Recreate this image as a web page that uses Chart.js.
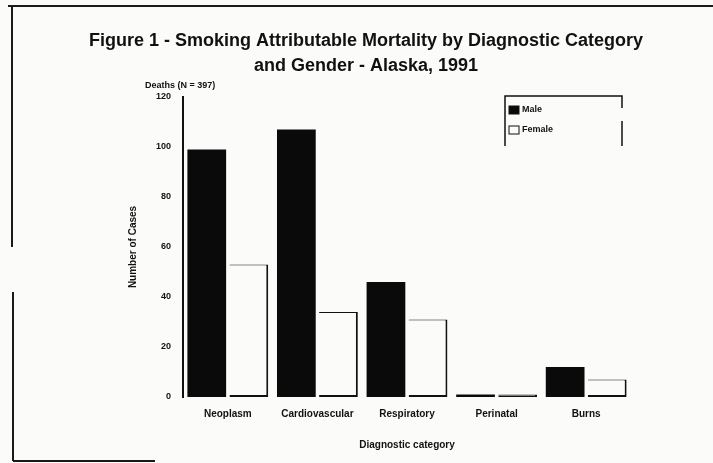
<!DOCTYPE html>
<html>
<head>
<meta charset="utf-8">
<script src="https://cdn.jsdelivr.net/npm/chart.js@4/dist/chart.umd.min.js"></script>
<style>
  html, body { margin: 0; padding: 0; background: #fbfbfa; }
  #wrap { position: relative; width: 713px; height: 463px; }
  canvas { position: absolute; left: 0; top: 0; }
</style>
</head>
<body>
<div id="wrap"><canvas id="c" width="713" height="463"></canvas></div>
<script>
const categories = ["Neoplasm", "Cardiovascular", "Respiratory", "Perinatal", "Burns"];
const maleValues = [99, 107, 46, 1, 12];
const femaleValues = [53, 34, 31, 1, 7];
const yTicks = [0, 20, 40, 60, 80, 100, 120];
const titleLines = ["Figure 1 - Smoking Attributable Mortality by Diagnostic Category", "and Gender - Alaska, 1991"];
const subtitleText = "Deaths (N = 397)";
const yTitle = "Number of Cases";
const xTitle = "Diagnostic category";

const FONT = "'Liberation Sans', Arial, sans-serif";

const frame = {
  id: 'frame',
  beforeDraw(chart) {
    const ctx = chart.ctx;
    ctx.save();
    ctx.strokeStyle = '#1a1a1a';
    ctx.lineWidth = 2;
    ctx.beginPath();
    ctx.moveTo(8, 6); ctx.lineTo(713, 6);
    ctx.moveTo(12, 6); ctx.lineTo(12, 247);
    ctx.moveTo(13, 292); ctx.lineTo(13, 461);
    ctx.moveTo(13, 461); ctx.lineTo(155, 461);
    ctx.stroke();
    ctx.restore();
  }
};

const overlay = {
  id: 'overlay',
  afterDraw(chart) {
    const ctx = chart.ctx;
    ctx.save();
    // title
    ctx.fillStyle = '#111';
    ctx.textAlign = 'center';
    ctx.textBaseline = 'alphabetic';
    ctx.font = "bold 18px " + FONT;
    ctx.fillText(titleLines[0], 366, 46);
    ctx.fillText(titleLines[1], 366, 71);
    // subtitle above axis
    ctx.font = "bold 9px " + FONT;
    ctx.textAlign = 'left';
    ctx.fillText(subtitleText, 145, 88);
    // legend box
    const lx = 505, ly = 96, lw = 117, lh = 50;
    ctx.strokeStyle = '#111';
    ctx.lineWidth = 1.5;
    ctx.beginPath();
    ctx.moveTo(lx, ly + lh); ctx.lineTo(lx, ly); ctx.lineTo(lx + lw, ly); ctx.lineTo(lx + lw, ly + 12);
    ctx.moveTo(lx + lw, ly + 25); ctx.lineTo(lx + lw, ly + lh);
    ctx.stroke();
    chart.data.datasets.forEach((ds, i) => {
      const ry = ly + 10 + i * 20;
      ctx.fillStyle = ds.backgroundColor;
      ctx.fillRect(lx + 4, ry, 10, 8);
      ctx.strokeStyle = '#111';
      ctx.lineWidth = 1;
      ctx.strokeRect(lx + 4, ry, 10, 8);
      ctx.fillStyle = '#111';
      ctx.font = "bold 9px " + FONT;
      ctx.textBaseline = 'middle';
      ctx.fillText(ds.label, lx + 17, ry + 4);
    });
    ctx.restore();
  }
};

new Chart(document.getElementById('c'), {
  type: 'bar',
  data: {
    labels: categories,
    datasets: [
      { label: 'Male', data: maleValues, backgroundColor: '#0a0a0a', borderColor: '#0a0a0a', borderWidth: 0 },
      { label: 'Female', data: femaleValues, backgroundColor: '#fbfbfa', borderColor: '#111',
        borderWidth: { top: 1, right: 2, bottom: 2, left: 0 }, borderSkipped: false }
    ]
  },
  options: {
    responsive: false,
    animation: false,
    devicePixelRatio: 1,
    layout: { padding: { left: 123, right: 82, top: 97, bottom: 8 } },
    datasets: { bar: { categoryPercentage: 0.94, barPercentage: 0.92 } },
    plugins: {
      legend: { display: false },
      tooltip: { enabled: false },
      title: { display: false }
    },
    scales: {
      x: {
        grid: { display: false, drawTicks: false },
        border: { display: false },
        ticks: { color: '#111', font: { family: FONT, size: 10, weight: 'bold' }, padding: 11 },
        title: { display: true, text: xTitle, color: '#111', font: { family: FONT, size: 10, weight: 'bold' }, padding: { top: 8 } }
      },
      y: {
        min: 0, max: 120,
        afterBuildTicks(scale) { scale.ticks = yTicks.map(v => ({ value: v })); },
        grid: { display: false, drawTicks: false },
        border: { display: true, color: '#111', width: 2 },
        ticks: { color: '#111', font: { family: FONT, size: 9, weight: 'bold' }, padding: 12 },
        title: { display: true, text: yTitle, color: '#111', font: { family: FONT, size: 10, weight: 'bold' }, padding: { bottom: 5 } }
      }
    }
  },
  plugins: [frame, overlay]
});
</script>
</body>
</html>
